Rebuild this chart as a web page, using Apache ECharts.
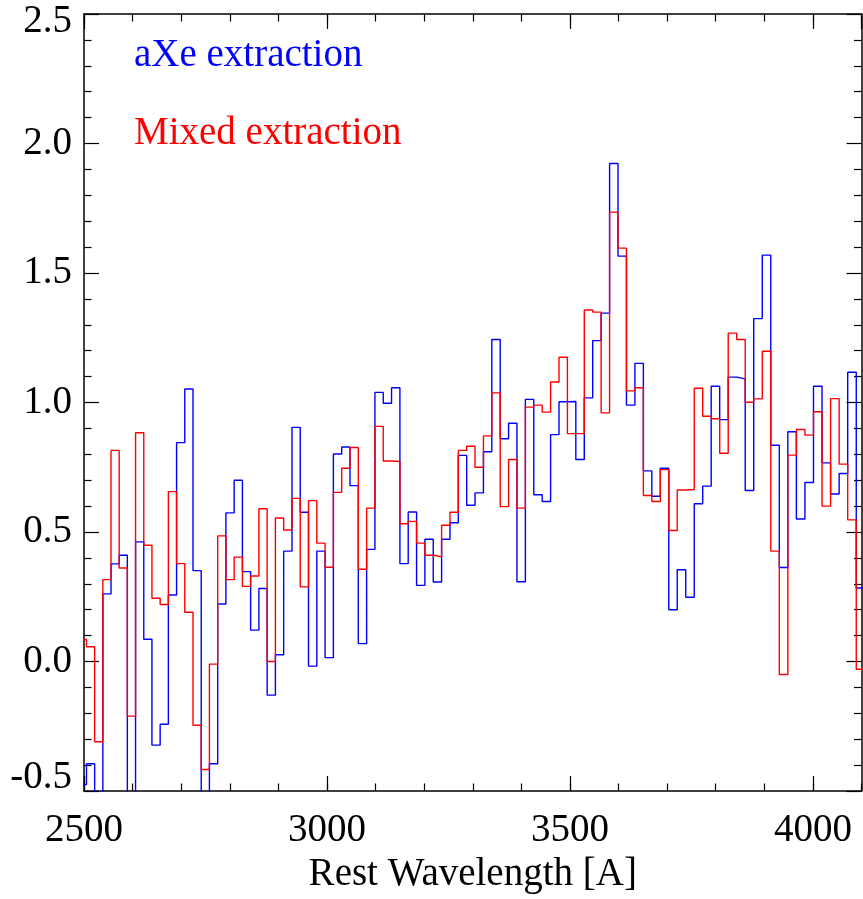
<!DOCTYPE html>
<html>
<head>
<meta charset="utf-8">
<script src="https://cdn.jsdelivr.net/npm/echarts@6/dist/echarts.min.js"></script>
<style>
  html, body { margin: 0; padding: 0; background: #fff; }
  #chart { width: 863px; height: 899px; background: #fff; }
</style>
</head>
<body>
<div id="chart"></div>
<script>
// left edges of the spectral bins (rest wavelength, A); last entry closes the last bin
const waveEdges = [
  2488.4, 2505.1, 2521.9, 2538.8, 2555.6, 2572.4, 2589.2, 2606.1, 2623.0, 2639.8,
  2656.7, 2673.6, 2690.5, 2707.4, 2724.3, 2741.2, 2758.1, 2775.1, 2792.0, 2809.0,
  2826.0, 2842.9, 2859.9, 2876.9, 2893.9, 2910.9, 2928.0, 2945.0, 2962.0, 2979.1,
  2996.1, 3013.2, 3030.3, 3047.4, 3064.5, 3081.6, 3098.7, 3115.8, 3132.9, 3150.1,
  3167.2, 3184.4, 3201.5, 3218.7, 3235.9, 3253.1, 3270.3, 3287.5, 3304.7, 3322.0,
  3339.2, 3356.5, 3373.7, 3391.0, 3408.3, 3425.6, 3442.9, 3460.2, 3477.5, 3494.8,
  3512.1, 3529.5, 3546.8, 3564.2, 3581.6, 3598.9, 3616.3, 3633.7, 3651.1, 3668.5,
  3686.0, 3703.4, 3720.8, 3738.3, 3755.8, 3773.2, 3790.7, 3808.2, 3825.7, 3843.2,
  3860.7, 3878.2, 3895.8, 3913.3, 3930.9, 3948.4, 3966.0, 3983.6, 4001.2, 4018.8,
  4036.4, 4054.0, 4071.6, 4089.2, 4106.9
]

// aXe extraction (blue)
const axeFlux = [
  -0.475, -0.395, -0.75, 0.261, 0.377, 0.41, -0.7, 0.462, 0.086, -0.323,
  -0.242, 0.257, 0.845, 1.052, 0.351, -0.65, -0.395, 0.222, 0.574, 0.70,
  0.347, 0.121, 0.282, -0.13, 0.026, 0.426, 0.904, 0.576, -0.018, 0.426,
  0.015, 0.801, 0.828, 0.679, 0.069, 0.433, 1.039, 0.997, 1.057, 0.378,
  0.577, 0.294, 0.472, 0.307, 0.472, 0.536, 0.796, 0.603, 0.651, 0.81,
  1.243, 0.86, 0.92, 0.308, 1.012, 0.644, 0.618, 0.876, 1.003, 1.004,
  0.78, 1.018, 1.239, 1.345, 1.923, 1.565, 0.99, 1.151, 0.736, 0.638,
  0.746, 0.2, 0.354, 0.248, 0.609, 0.677, 1.063, 0.934, 1.098, 1.091,
  0.66, 1.324, 1.569, 0.835, 0.363, 0.887, 0.55, 0.691, 1.063, 0.767,
  0.647, 0.726, 1.117, 0.284
]

// Mixed extraction (red)
const mixedFlux = [
  0.085, 0.057, -0.31, 0.316, 0.815, 0.361, -0.211, 0.883, 0.449, 0.244,
  0.22, 0.656, 0.378, 0.19, -0.246, -0.417, -0.01, 0.485, 0.316, 0.403,
  0.29, 0.33, 0.59, 0.0, 0.554, 0.508, 0.63, 0.288, 0.621, 0.457,
  0.364, 0.653, 0.746, 0.826, 0.356, 0.592, 0.908, 0.774, 0.772, 0.532,
  0.541, 0.457, 0.41, 0.405, 0.526, 0.576, 0.815, 0.831, 0.75, 0.871,
  1.037, 0.598, 0.78, 0.592, 0.982, 0.99, 0.963, 1.079, 1.175, 0.88,
  0.88, 1.357, 1.349, 0.96, 1.735, 1.596, 1.045, 1.057, 0.641, 0.618,
  0.741, 0.506, 0.662, 0.664, 1.055, 0.947, 0.937, 0.804, 1.268, 1.243,
  1.001, 1.014, 1.198, 0.426, -0.05, 0.797, 0.896, 0.874, 0.964, 0.6,
  1.015, 0.762, 0.547, -0.03
]

const FONT = 'Liberation Serif'
const FS = 39

// histogram style: one point per bin edge, last value repeated to close the bin
function toSteps(vals) {
  const pts = vals.map((v, i) => [waveEdges[i], v])
  pts.push([waveEdges[vals.length], vals[vals.length - 1]])
  return pts
}

const myChart = echarts.init(document.getElementById('chart'), null, { renderer: 'canvas' })

// fresh style objects for every axis (shared ones made the x ticks vanish)
function frame() {
  return { show: true, onZero: false, lineStyle: { color: '#000', width: 1.5 } }
}
function ticks(len) {
  return { show: true, inside: true, length: len, lineStyle: { color: '#000', width: 1.2 } }
}

// long ticks every 500 A, with the frame line
function xMajor(position, withLabels) {
  const ax = {
    type: 'value',
    position,
    min: 2500,
    max: 4100,
    interval: 500,
    splitLine: { show: false },
    axisLine: frame(),
    axisTick: ticks(15),
    axisLabel: { show: false }
  }
  if (withLabels) {
    ax.axisLabel = {
      show: true,
      margin: 20,
      showMaxLabel: false,
      color: '#000',
      fontFamily: FONT,
      fontSize: FS,
      formatter: v => String(v)
    }
    ax.name = 'Rest Wavelength [A]'
    ax.nameLocation = 'middle'
    ax.nameGap = 64
    ax.nameTextStyle = { color: '#000', fontFamily: FONT, fontSize: FS }
  }
  return ax
}

// short ticks every 100 A on the same side
function xMinor(position) {
  return {
    type: 'value',
    position,
    min: 2500,
    max: 4100,
    interval: 100,
    splitLine: { show: false },
    axisLine: { show: false, onZero: false },
    axisTick: ticks(7.5),
    axisLabel: { show: false }
  }
}

function yAx(position, withLabels) {
  const ax = {
    type: 'value',
    position,
    min: -0.5,
    max: 2.5,
    interval: 0.5,
    splitLine: { show: false },
    axisLine: frame(),
    axisTick: ticks(15),
    minorTick: { show: true, splitNumber: 5, length: 7.5, lineStyle: { color: '#000', width: 1.2 } },
    axisLabel: { show: false }
  }
  if (withLabels) {
    ax.axisLabel = {
      show: true,
      margin: 12,
      color: '#000',
      fontFamily: FONT,
      fontSize: FS,
      // end labels are pushed inside the frame, like the original plot
      formatter: v => {
        const s = v.toFixed(1)
        if (v >= 2.5) return '{hi|' + s + '}'
        if (v <= -0.5) return '{lo|' + s + '}'
        return s
      },
      rich: {
        hi: { fontFamily: FONT, fontSize: FS, color: '#000', padding: [15, 0, 0, 0] },
        lo: { fontFamily: FONT, fontSize: FS, color: '#000', padding: [0, 0, 26, 0] }
      }
    }
  }
  return ax
}

const option = {
  animation: false,
  grid: { left: 84, right: 1.5, top: 14, bottom: 107.5 },
  xAxis: [xMajor('bottom', true), xMajor('top', false), xMinor('bottom'), xMinor('top')],
  yAxis: [yAx('left', true), yAx('right', false)],
  graphic: [
    {
      type: 'text',
      left: 134,
      top: 36,
      style: { text: 'aXe extraction', fill: '#0000ff', font: FS + 'px "' + FONT + '"' }
    },
    {
      type: 'text',
      left: 134,
      top: 114,
      style: { text: 'Mixed extraction', fill: '#ff0000', font: FS + 'px "' + FONT + '"' }
    }
  ],
  series: [
    {
      name: 'aXe extraction',
      type: 'line',
      step: 'end',
      symbol: 'none',
      lineStyle: { color: '#0000ff', width: 1.4 },
      data: toSteps(axeFlux)
    },
    {
      name: 'Mixed extraction',
      type: 'line',
      step: 'end',
      symbol: 'none',
      lineStyle: { color: '#ff0000', width: 1.4 },
      data: toSteps(mixedFlux)
    }
  ]
}

myChart.setOption(option)
</script>
</body>
</html>
